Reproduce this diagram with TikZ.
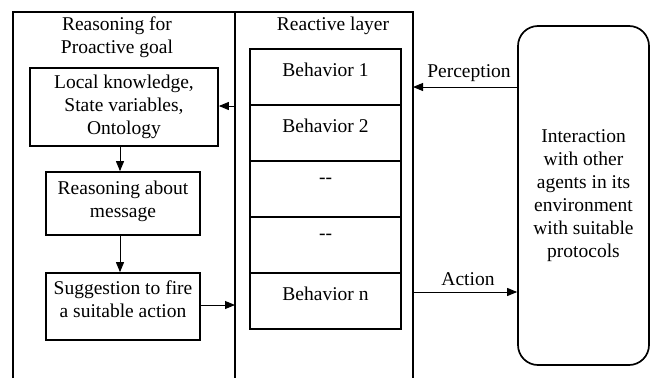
\documentclass[tikz,border=0pt]{standalone}
\usepackage{fontspec}
\setmainfont{Liberation Serif}
\usetikzlibrary{arrows.meta}
\begin{document}
\begin{tikzpicture}[x=1pt,y=-1pt,
  txt/.style={font=\fontsize{19.5}{23}\selectfont, align=center, inner sep=0pt},
  box/.style={draw, line width=1.7pt, inner sep=0pt},
  cell/.style={draw, line width=1.7pt, minimum width=151pt, minimum height=56pt, inner sep=0pt},
  panel/.style={line width=1.4pt},
  arr/.style={-{Triangle[length=10pt,width=8pt]}, line width=0.9pt},
]
\useasboundingbox (0,0) rectangle (650,378);
% panels
\coordinate (lpBL) at (13,378);
\coordinate (lpTL) at (13,12);
\coordinate (mpTL) at (235,12);
\coordinate (mpBL) at (235,378);
\coordinate (mpTR) at (413,12);
\coordinate (mpBR) at (413,378);
\draw[panel] (lpBL) -- (lpTL) -- (mpTL) -- (mpTR) -- (mpBR);
\draw[panel] (mpTL) -- (mpBL);
% titles
\node[txt] (t1) at (117,37) {Reasoning for\\Proactive goal};
\node[txt] (t2) at (333,26) {Reactive layer};
% left boxes
\node[box, minimum width=188pt, minimum height=78pt] (b1) at (124,107) {};
\node[txt] at (b1.center) {Local knowledge,\\State variables,\\Ontology};
\node[box, minimum width=154pt, minimum height=63pt] (b2) at (123,203.5) {};
\node[txt] at (123,201.5) {Reasoning about\\message};
\node[box, minimum width=154pt, minimum height=67pt] (b3) at (123,306.5) {};
\node[txt] at (123,299) {Suggestion to fire\\a suitable action};
% cells
\node[cell] (c1) at (325.5,77) {};
\node[cell] (c2) at (325.5,133) {};
\node[cell] (c3) at (325.5,189) {};
\node[cell] (c4) at (325.5,245) {};
\node[cell] (c5) at (325.5,301) {};
\node[txt] at (325.5,70) {Behavior 1};
\node[txt] at (325.5,126) {Behavior 2};
\node[txt] at (325.5,181) {{-}{-}};
\node[txt] at (325.5,237) {{-}{-}};
\node[txt] at (325.5,294) {Behavior n};
% environment
\node[draw, line width=1.7pt, rounded corners=20pt, minimum width=131pt, minimum height=339pt] (env) at (583.5,195.5) {};
\node[txt] at (583.5,196) {Interaction\\with other\\agents in its\\environment\\with suitable\\protocols};
% connectors
\coordinate (pR) at (413,87);
\coordinate (aL) at (413,292);
\coordinate (m1) at (235,106);
\coordinate (m2) at (235,305);
\draw[arr] (env.west |- pR) -- (pR);
\node[txt] at (469,73) {Perception};
\draw[arr] (aL) -- (env.west |- aL);
\node[txt] at (468,279) {Action};
\draw[arr] (m1) -- (b1.east |- m1);
\draw[arr] (b3.east |- m2) -- (m2);
\draw[arr] (b1.south -| 120,0) -- (b2.north -| 120,0);
\draw[arr] (b2.south -| 120,0) -- (b3.north -| 120,0);
\end{tikzpicture}
\end{document}
